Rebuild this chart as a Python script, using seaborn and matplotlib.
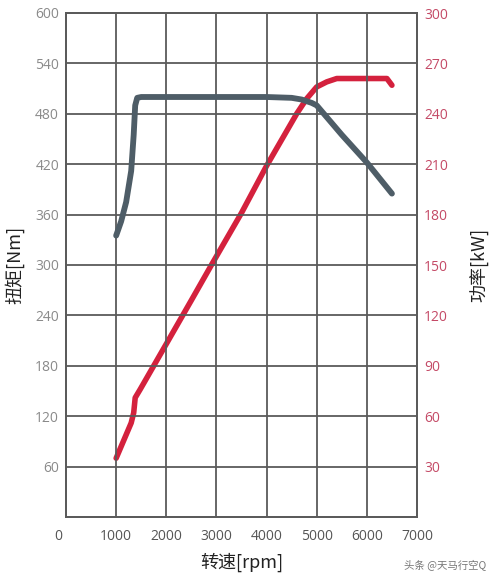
import matplotlib
matplotlib.use("Agg")
import matplotlib.pyplot as plt
import matplotlib.transforms as mtransforms
import seaborn as sns
import pandas as pd

# ---- data ----
torque_rpm = [1000, 1100, 1200, 1300, 1350, 1380, 1420, 1500, 2000, 3000, 4000,
              4500, 4700, 4900, 5000, 5200, 5500, 6000, 6500]
torque_nm = [335, 352, 375, 412, 455, 490, 499, 500, 500, 500, 500,
             499, 497, 493, 490, 476, 455, 422, 385]

power_rpm = [1000, 1100, 1200, 1300, 1350, 1380, 1480, 2000, 2500, 2900, 3500,
             4000, 4600, 4800, 5000, 5200, 5400, 6000, 6400, 6500]
power_kw = [35, 42, 49, 56, 62, 71, 76, 103, 129, 150, 181,
            209, 240, 249, 256, 259, 261, 261, 261, 257]

x_ticks = [0, 1000, 2000, 3000, 4000, 5000, 6000, 7000]
left_ticks = [60, 120, 180, 240, 300, 360, 420, 480, 540, 600]
right_ticks = [30, 60, 90, 120, 150, 180, 210, 240, 270, 300]

x_label = "转速[rpm]"
left_label = "扭矩[Nm]"
right_label = "功率[kW]"
watermark = "头条 @天马行空Q"

torque_df = pd.DataFrame({"rpm": torque_rpm, "torque": torque_nm})
power_df = pd.DataFrame({"rpm": power_rpm, "power": power_kw})

sns.set_style("white")
plt.rcParams["font.family"] = ["Open Sans", "Noto Sans CJK SC", "DejaVu Sans"]

GRID = "#5a5a5a"
TORQUE_C = "#4e5d67"
POWER_C = "#d4213d"
CJK = ["Noto Sans CJK SC", "DejaVu Sans"]

fig = plt.figure(figsize=(4.95, 5.84), dpi=100)
ax = fig.add_axes([66 / 495, 1 - 517 / 584, (417 - 66) / 495, (517 - 13) / 584])
ax2 = ax.twinx()

sns.lineplot(data=torque_df, x="rpm", y="torque", ax=ax, color=TORQUE_C,
             linewidth=4.2, solid_capstyle="round", zorder=5)
sns.lineplot(data=power_df, x="rpm", y="power", ax=ax2, color=POWER_C,
             linewidth=4, solid_capstyle="round", zorder=5)

ax.set_xlim(0, 7000)
ax.set_ylim(0, 600)
ax2.set_ylim(0, 300)

ax.set_xticks(x_ticks)
ax.set_yticks(left_ticks)
ax2.set_yticks(right_ticks)

# grid lines drawn in main axes
for xv in x_ticks[1:-1]:
    ax.axvline(xv, color=GRID, linewidth=1.3, zorder=1)
for yv in left_ticks[:-1]:
    ax.axhline(yv, color=GRID, linewidth=1.3, zorder=1)

for a in (ax, ax2):
    for s in a.spines.values():
        s.set_color(GRID)
        s.set_linewidth(1.3)
    a.tick_params(length=0)

ax.tick_params(axis="y", colors="#8a8a8a", labelsize=10, pad=5)
ax.tick_params(axis="x", colors="#555555", labelsize=10, pad=9)
ax2.tick_params(axis="y", colors="#c44a66", labelsize=10, pad=5)
ax.set_zorder(ax2.get_zorder() + 1)
ax.patch.set_visible(False)

# shift the "0" x tick label slightly left as in the reference
lbl0 = ax.get_xticklabels()[0]
lbl0.set_transform(lbl0.get_transform() + mtransforms.ScaledTranslation(-8 / 100, 0, fig.dpi_scale_trans))

ax.set_xlabel(x_label, fontsize=13, color="#222222", family=CJK, labelpad=6)
ax.set_ylabel(left_label, fontsize=13, color="#222222", family=CJK, labelpad=8)
ax2.set_ylabel(right_label, fontsize=13, color="#222222", family=CJK, labelpad=16)

fig.text(486 / 495, 1 - 566 / 584, watermark, fontsize=7.5, color="#777777",
         ha="right", va="center", family=CJK)

fig.savefig("out.png", dpi=100, facecolor="white")
